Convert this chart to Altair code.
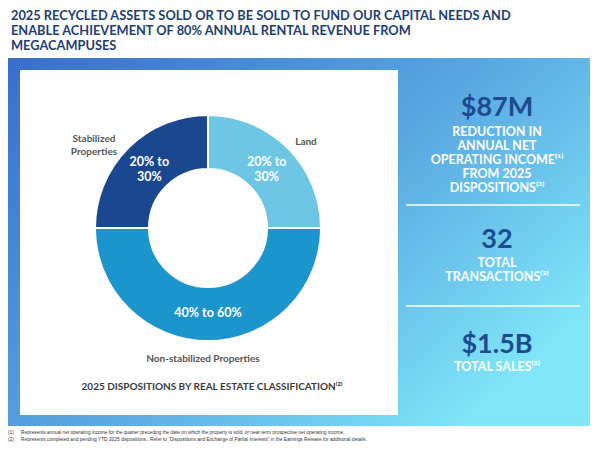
import altair as alt
import pandas as pd

# ---------------- data ----------------
classes = ["Land", "Non-stabilized Properties", "Stabilized Properties"]
share_mid = [25, 50, 25]          # midpoints of the stated ranges (%)
range_top = ["20% to", "", "20% to"]
range_bottom = ["30%", "", "30%"]
range_single = ["", "40% to 60%", ""]
class_colors = ["#6CC6E4", "#1C95CD", "#1B4690"]

title_lines = [
    "2025 RECYCLED ASSETS SOLD OR TO BE SOLD TO FUND OUR CAPITAL NEEDS AND",
    "ENABLE ACHIEVEMENT OF 80% ANNUAL RENTAL REVENUE FROM",
    "MEGACAMPUSES",
]
caption = "2025 DISPOSITIONS BY REAL ESTATE CLASSIFICATION⁽²⁾"

metric_values = ["$87M", "32", "$1.5B"]
metric_desc = [
    ["REDUCTION IN", "ANNUAL NET", "OPERATING INCOME⁽¹⁾", "FROM 2025", "DISPOSITIONS⁽²⁾"],
    ["TOTAL", "TRANSACTIONS⁽²⁾"],
    ["TOTAL SALES⁽²⁾"],
]
footnotes = [
    ("(1)", "Represents annual net operating income for the quarter preceding the date on which the property is sold, or near-term prospective net operating income."),
    ("(2)", "Represents completed and pending YTD 2025 dispositions.. Refer to \u201cDispositions and Exchange of Partial Interests\u201d in the Earnings Release for additional details."),
]

FONT = "Lato"
W, H = 583, 435
one = pd.DataFrame({"k": [0]})

layers = []

# title
for i, line in enumerate(title_lines):
    layers.append(
        alt.Chart(one).mark_text(
            text=line, font=FONT, fontSize=12.8, fontWeight="bold", color="#1D3E72",
            align="left", baseline="middle",
        ).encode(x=alt.value(3), y=alt.value(8 + i * 15.2))
    )

# gradient frame
grad = alt.Gradient(
    gradient="linear",
    stops=[
        alt.GradientStop(color="#3A6DCB", offset=0),
        alt.GradientStop(color="#58A6E1", offset=0.55),
        alt.GradientStop(color="#80E6F8", offset=1),
    ],
    x1=0, y1=0, x2=1, y2=0.7,
)
layers.append(
    alt.Chart(one).mark_rect(color=grad).encode(
        x=alt.value(0), x2=alt.value(582), y=alt.value(50), y2=alt.value(418)
    )
)
# white card
layers.append(
    alt.Chart(one).mark_rect(color="white").encode(
        x=alt.value(12), x2=alt.value(390), y=alt.value(62), y2=alt.value(407)
    )
)

# donut
donut_df = pd.DataFrame({
    "cls": classes, "share": share_mid, "idx": list(range(len(classes))),
    "l_top": range_top, "l_bot": range_bottom, "l_mid": range_single,
})
CX, CY = 200, 220
base = alt.Chart(donut_df).encode(
    theta=alt.Theta("share:Q", stack=True),
    order=alt.Order("idx:Q"),
    x=alt.value(CX), y=alt.value(CY),
)
layers.append(
    base.mark_arc(innerRadius=59, outerRadius=113, stroke="white", strokeWidth=2).encode(
        color=alt.Color("cls:N", scale=alt.Scale(domain=classes, range=class_colors), legend=None)
    )
)
txt_style = dict(font=FONT, fontSize=12.5, fontWeight="bold", color="white",
                 align="center", baseline="middle")
layers.append(base.mark_text(radius=83, dy=-7.5, **txt_style).encode(text="l_top:N"))
layers.append(base.mark_text(radius=83, dy=7.5, **txt_style).encode(text="l_bot:N"))
layers.append(base.mark_text(radius=85, **txt_style).encode(text="l_mid:N"))

# outer labels
outer = [("Stabilized", 86, 131), ("Properties", 86, 143.5), ("Land", 298, 134),
         ("Non-stabilized Properties", 195, 351)]
for txt, x, y in outer:
    layers.append(
        alt.Chart(one).mark_text(text=txt, font=FONT, fontSize=10, fontWeight="bold",
                                 color="#555555", align="center", baseline="middle")
        .encode(x=alt.value(x), y=alt.value(y))
    )

# caption
layers.append(
    alt.Chart(one).mark_text(text=caption, font=FONT, fontSize=10, fontWeight="bold",
                             color="#3A3A3A", align="center", baseline="middle")
    .encode(x=alt.value(204), y=alt.value(379))
)

# right panel metrics
PX = 489
value_y = [100, 232, 337]
desc_start = [124, 255, 359]
for v, vy, lines, dy in zip(metric_values, value_y, metric_desc, desc_start):
    layers.append(
        alt.Chart(one).mark_text(text=v, font=FONT, fontSize=27, fontWeight="bold",
                                 color="#1E4A8E", align="center", baseline="middle")
        .encode(x=alt.value(PX), y=alt.value(vy))
    )
    for j, ln in enumerate(lines):
        layers.append(
            alt.Chart(one).mark_text(text=ln, font=FONT, fontSize=12.5, fontWeight="bold",
                                     color="white", align="center", baseline="middle")
            .encode(x=alt.value(PX), y=alt.value(dy + j * 14))
        )

# dividers
for ly in [197, 298]:
    layers.append(
        alt.Chart(one).mark_rule(color="white", strokeWidth=1.5).encode(
            x=alt.value(398), x2=alt.value(572), y=alt.value(ly)
        )
    )

# footnotes
for i, (num, txt) in enumerate(footnotes):
    layers.append(
        alt.Chart(one).mark_text(text=num, font="Liberation Sans", fontSize=4.8, color="#333333",
                                 align="left", baseline="middle")
        .encode(x=alt.value(0), y=alt.value(425 + i * 7))
    )
    layers.append(
        alt.Chart(one).mark_text(text=txt, font="Liberation Sans", fontSize=4.8, color="#333333",
                                 align="left", baseline="middle")
        .encode(x=alt.value(13), y=alt.value(425 + i * 7))
    )

chart = alt.layer(*layers).properties(
    width=W, height=H, padding=0, autosize=alt.AutoSizeParams(type="none")
).configure_view(stroke=None)

chart.save("out.html", embed_options={"renderer": "svg", "actions": False})
